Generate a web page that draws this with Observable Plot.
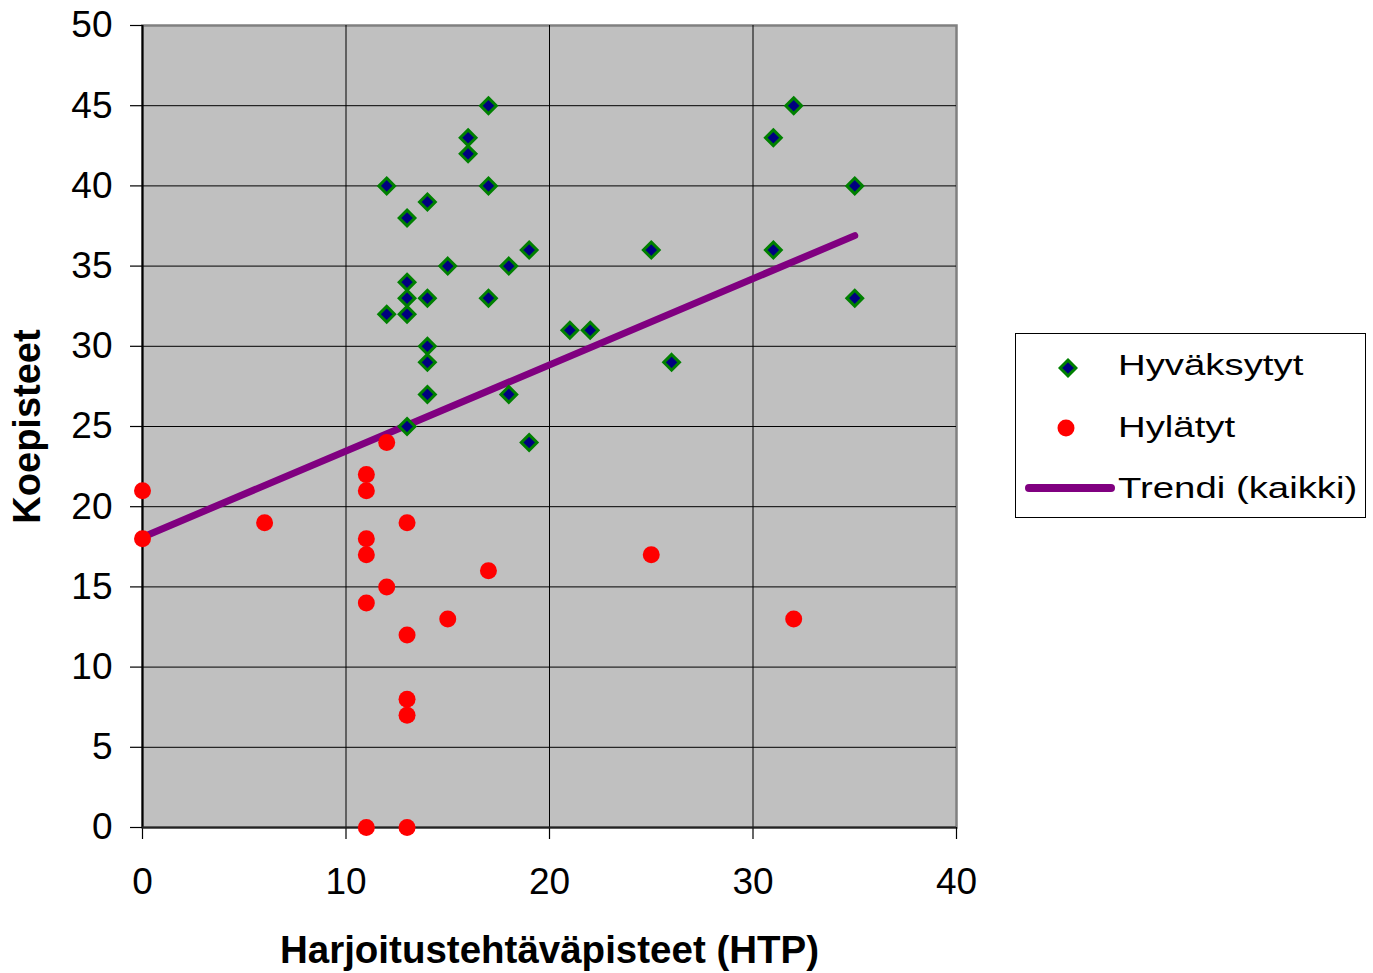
<!DOCTYPE html>
<html><head><meta charset="utf-8">
<script src="https://cdn.jsdelivr.net/npm/d3@7"></script>
<script src="https://cdn.jsdelivr.net/npm/@observablehq/plot@0.6"></script>
<style>
body{margin:0;background:#fff;}
#wrap{position:relative;width:1373px;height:973px;font-family:"Liberation Sans",Arial,sans-serif;}
#legend{position:absolute;left:1014px;top:332px;}
</style>
</head><body><div id="wrap"></div>
<script>
// Hyväksytyt (accepted)
const acceptedX = [17,16,16,12,17,14,13,19,25,31,15,18,13,13,14,17,35,12,13,21,22,14,14,26,14,18,13,19,31,32,35];
const acceptedY = [45,43,42,40,40,39,38,36,36,36,35,35,34,33,33,33,33,32,32,31,31,30,29,29,27,27,25,24,43,45,40];
// Hylätyt (rejected)
const rejectedX = [0,0,6,12,11,11,13,11,11,12,11,15,13,13,13,11,13,17,25,32];
const rejectedY = [21,18,19,24,22,21,19,18,17,15,14,13,12,8,7,0,0,16,17,13];
// Trendi (kaikki) endpoints
const trendX = [0,35];
const trendY = [18.1,36.9];
// axis ticks
const xTicks = [0,10,20,30,40];
const yTicks = [0,5,10,15,20,25,30,35,40,45,50];
const xGrid = [10,20,30];
const yGrid = [5,10,15,20,25,30,35,40,45];
const xLabel = "Harjoitustehtäväpisteet (HTP)";
const yLabel = "Koepisteet";
const seriesNames = ["Hyväksytyt","Hylätyt","Trendi (kaikki)"];

const accepted = acceptedX.map((x,i)=>({x, y:acceptedY[i]}));
const rejected = rejectedX.map((x,i)=>({x, y:rejectedY[i]}));
const trend = trendX.map((x,i)=>({x, y:trendY[i]}));

const font = '"Liberation Sans", Arial, sans-serif';
const chart = Plot.plot({
  width:1373, height:973,
  marginLeft:142, marginRight:417, marginTop:25, marginBottom:146,
  x:{domain:[0,40]}, y:{domain:[0,50]},
  style:{fontFamily:font, background:"white", color:"black"},
  marks:[
    Plot.frame({fill:"#c0c0c0", stroke:"#808080", strokeWidth:2.5}),
    Plot.gridX(xGrid, {stroke:"black", strokeOpacity:1, strokeWidth:1}),
    Plot.gridY(yGrid, {stroke:"black", strokeOpacity:1, strokeWidth:1}),
    Plot.axisX(xTicks, {tickSize:12, tickPadding:28, fontSize:37, label:null, stroke:"black", strokeWidth:1.2}),
    Plot.axisY(yTicks, {tickSize:12, tickPadding:18, fontSize:37, label:null, stroke:"black", strokeWidth:1.2}),
    Plot.ruleX([0], {stroke:"black", strokeWidth:2}),
    Plot.ruleY([0], {stroke:"#222", strokeWidth:2}),
    Plot.line(trend, {x:"x", y:"y", stroke:"#800080", strokeWidth:7, strokeLinecap:"round"}),
    Plot.dot(rejected, {x:"x", y:"y", r:8.5, fill:"#ff0000", stroke:"none"}),
    Plot.dot(accepted, {x:"x", y:"y", symbol:"diamond2", r:7.1, fill:"#000080", stroke:"#008000", strokeWidth:3}),
    Plot.text([yLabel], {frameAnchor:"left", dx:-115, rotate:-90, textAnchor:"middle", lineAnchor:"middle", fontWeight:"bold", fontSize:38}),
    Plot.text([xLabel], {frameAnchor:"bottom", dy:123, textAnchor:"middle", lineAnchor:"middle", fontWeight:"bold", fontSize:38.5})
  ]
});
const wrap = document.getElementById("wrap");
wrap.appendChild(chart);

// legend
const sx = 1.3, fs = 29.5;
const lg = d3.select(wrap).append("svg").attr("id","legend").attr("width",353).attr("height",188);
lg.append("rect").attr("x",1.5).attr("y",1.5).attr("width",350).attr("height",184)
  .attr("fill","white").attr("stroke","black").attr("stroke-width",1);
lg.append("path").attr("d", d3.symbol(d3.symbolDiamond2, Math.PI*7.1*7.1)())
  .attr("transform","translate(54,36)").attr("fill","#000080").attr("stroke","#008000").attr("stroke-width",3);
lg.append("circle").attr("cx",52).attr("cy",96).attr("r",8.5).attr("fill","#ff0000");
lg.append("line").attr("x1",15).attr("x2",97).attr("y1",156).attr("y2",156)
  .attr("stroke","#800080").attr("stroke-width",8).attr("stroke-linecap","round");
const baselines = [43,105,166];
seriesNames.forEach((t,i)=>{
  lg.append("text").attr("x",104/sx).attr("y",baselines[i]).attr("transform",`scale(${sx},1)`)
    .attr("font-family",font).attr("font-size",fs).attr("fill","black").text(t);
});
</script>
</body></html>
